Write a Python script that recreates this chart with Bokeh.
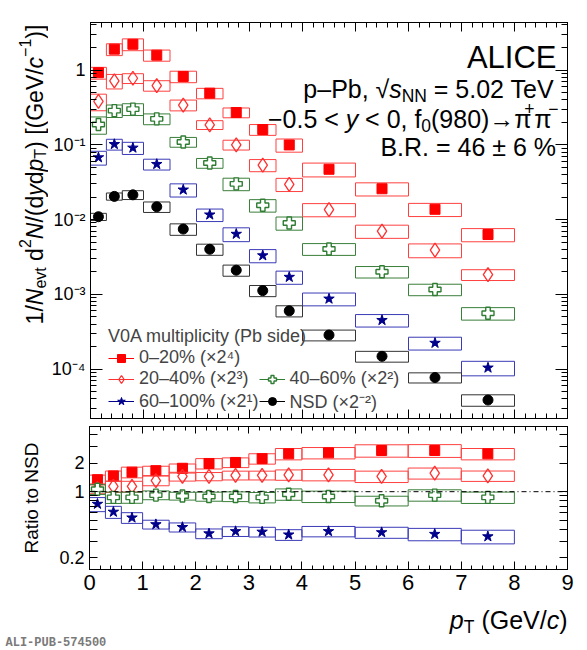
from math import log10, pi
from bokeh.plotting import figure
from bokeh.layouts import column, row
from bokeh.models import (ColumnDataSource, FixedTicker, SingleIntervalTicker, LinearAxis, LogAxis,
                          Label, Legend, LegendItem, Span, Range1d)
from bokeh.embed import file_html
from bokeh.resources import INLINE

# ---------------- data ----------------
pt_lo = [0.0, 0.3, 0.6, 1.0, 1.5, 2.0, 2.5, 3.0, 3.5, 4.0, 5.0, 6.0, 7.0]
pt_hi = [0.3, 0.6, 1.0, 1.5, 2.0, 2.5, 3.0, 3.5, 4.0, 5.0, 6.0, 7.0, 8.0]
pt = [0.15, 0.45, 0.8, 1.25, 1.75, 2.25, 2.75, 3.25, 3.75, 4.5, 5.5, 6.5, 7.5]

# spectra as plotted (already multiplied by the scale factors)
y_0_20 = [0.92, 1.90, 2.21, 1.58, 0.82, 0.49, 0.27, 0.16, 0.0995, 0.047, 0.0258, 0.0137, 0.0063]
sys_0_20 = [0.18, 0.18, 0.18, 0.17, 0.175, 0.16, 0.15, 0.165, 0.2, 0.21, 0.2, 0.2, 0.2]
y_20_40 = [0.38, 0.715, 0.776, 0.62, 0.34, 0.185, 0.10, 0.0535, 0.0296, 0.0136, 0.0070, 0.0039, 0.00183]
sys_20_40 = [0.25, 0.22, 0.15, 0.16, 0.165, 0.135, 0.15, 0.185, 0.2, 0.2, 0.2, 0.21, 0.165]
y_40_60 = [0.187, 0.286, 0.30, 0.222, 0.109, 0.057, 0.030, 0.0155, 0.0090, 0.00404, 0.0020, 0.00116, 0.000557]
sys_40_60 = [0.26, 0.19, 0.18, 0.165, 0.15, 0.15, 0.19, 0.19, 0.2, 0.18, 0.175, 0.175, 0.19]
y_60_100 = [0.0676, 0.1016, 0.091, 0.055, 0.025, 0.0116, 0.0064, 0.0033, 0.0017, 0.00087, 0.00045, 0.000223, 0.000104]
sys_60_100 = [0.21, 0.165, 0.185, 0.165, 0.2, 0.19, 0.21, 0.2, 0.2, 0.195, 0.19, 0.195, 0.22]
y_nsd = [0.0109, 0.0204, 0.0214, 0.0148, 0.00745, 0.0040, 0.0021, 0.00112, 0.0006, 0.000285, 0.000148, 7.7e-5, 3.85e-5]
sys_nsd = [0.11, 0.11, 0.135, 0.16, 0.175, 0.17, 0.17, 0.17, 0.17, 0.165, 0.165, 0.155, 0.175]

# ratios to NSD
r_0_20 = [1.34, 1.47, 1.61, 1.67, 1.77, 1.99, 2.04, 2.24, 2.52, 2.58, 2.73, 2.73, 2.52]
rsys_0_20 = [0.118, 0.126, 0.13, 0.114, 0.11, 0.126, 0.118, 0.126, 0.138, 0.138, 0.15, 0.155, 0.138]
r_20_40 = [1.08, 1.14, 1.14, 1.31, 1.45, 1.45, 1.49, 1.49, 1.51, 1.51, 1.45, 1.57, 1.47]
rsys_20_40 = [0.12, 0.138, 0.13, 0.118, 0.107, 0.10, 0.107, 0.107, 0.126, 0.138, 0.138, 0.134, 0.126]
r_40_60 = [1.06, 0.87, 0.87, 0.92, 0.90, 0.89, 0.89, 0.87, 0.94, 0.89, 0.80, 0.92, 0.87]
rsys_40_60 = [0.118, 0.138, 0.134, 0.107, 0.095, 0.11, 0.118, 0.126, 0.138, 0.138, 0.118, 0.138, 0.138]
r_60_100 = [0.74, 0.61, 0.53, 0.45, 0.42, 0.36, 0.38, 0.375, 0.35, 0.38, 0.37, 0.355, 0.335]
rsys_60_100 = [0.17, 0.146, 0.13, 0.107, 0.11, 0.118, 0.118, 0.118, 0.13, 0.126, 0.134, 0.15, 0.165]

legend_title = "V0A multiplicity (Pb side)"
labels = ["0–20% (×2⁴)", "20–40% (×2³)", "40–60% (×2²)", "60–100% (×2¹)", "NSD (×2⁻²)"]

# ---------------- geometry / style ----------------
FONT = "Liberation Sans"
TOTAL_W = 579
LAB_W = 48                       # strip that holds the rotated y title of the top panel
LEFT_PX, RIGHT_PX = 89, 567
TOP1_PX, BOT1_PX = 22, 422
BOT2_PX = 569
P2_BOTTOM = 31
BOTTOM_TOP = BOT2_PX + P2_BOTTOM  # page y where the bottom text strip starts
X_MIN, X_MAX = 0.0, 9.0
Y1_MIN, Y1_MAX = 2.18e-5, 4.32
Y2_MIN, Y2_MAX = 0.1497, 4.906

def px2x(px):
    return X_MIN + (px - LEFT_PX) / (RIGHT_PX - LEFT_PX) * (X_MAX - X_MIN)

def py2y1(py):
    f = (BOT1_PX - py) / (BOT1_PX - TOP1_PX)
    return 10 ** (log10(Y1_MIN) + f * (log10(Y1_MAX) - log10(Y1_MIN)))

W = {' ': .278, '%': .889, '(': .333, ')': .333, '+': .584, ',': .278, '-': .333, '.': .278, '/': .278,
     '<': .584, '=': .584, 'A': .667, 'B': .667, 'C': .722, 'D': .722, 'E': .667, 'G': .778, 'I': .278,
     'L': .556, 'N': .722, 'P': .667, 'R': .722, 'S': .667, 'T': .611, 'V': .667, 'a': .556, 'b': .556,
     'c': .5, 'd': .556, 'e': .556, 'f': .278, 'i': .222, 'l': .222, 'p': .556, 's': .5, 't': .278,
     'v': .5, 'y': .5, '[': .278, ']': .278, '±': .584, '–': .556, '−': .584, '→': .84, 'π': .56,
     '√': .549}

def tw(s, fs):
    return sum(W.get(ch, .556) for ch in s) * fs

def total_w(pieces):
    return sum(tw(t, fs) for t, fs, _, _ in pieces)

def add_pieces(p, pieces, start, base, fx, fy, rotated=False):
    pos = start
    for text, fs, style, dy in pieces:
        core = text.strip(" ")
        lead = tw(" " * (len(text) - len(text.lstrip(" "))), fs)
        here = pos - lead if rotated else pos + lead
        if core:
            if rotated:
                x, y, ang = fx(base + dy), fy(here), pi / 2
            else:
                x, y, ang = fx(here), fy(base + dy), 0
            p.add_layout(Label(x=x, y=y, text=core, angle=ang, text_font=FONT, text_font_size=f"{fs}px",
                               text_font_style=style, text_align="left", text_baseline="alphabetic",
                               text_color="black"))
        pos = pos - tw(text, fs) if rotated else pos + tw(text, fs)

def style_axis(ax, tick_in, minor_in, label_size=None, ticks=None):
    ax.axis_line_color = "black"
    ax.axis_line_width = 1
    ax.major_tick_in = tick_in
    ax.major_tick_out = 0
    ax.minor_tick_in = minor_in
    ax.minor_tick_out = 0
    ax.major_tick_line_color = "black"
    ax.minor_tick_line_color = "black"
    if label_size is None:
        ax.major_label_text_font_size = "1px"
        ax.major_label_standoff = 0
        ax.major_label_overrides = {t: " " for t in ticks}
    else:
        ax.major_label_text_font_size = label_size
        ax.major_label_text_font = FONT
        ax.major_label_text_color = "black"
        ax.major_label_standoff = 5

def text_fig(w, h):
    f = figure(width=w, height=h, x_range=Range1d(0, w), y_range=Range1d(h, 0),
               output_backend="svg", toolbar_location=None, x_axis_location=None,
               y_axis_location=None, min_border=0)
    try:
        f.frame_align = False      # keep the text strip's frame equal to its canvas
    except Exception:
        pass
    f.grid.visible = False
    f.outline_line_color = None
    f.background_fill_color = "white"
    f.border_fill_color = "white"
    return f

x_major = list(range(0, 10))
y1_major = [1e-4, 1e-3, 1e-2, 0.1, 1.0]
y1_minor = [k * 10.0 ** e for e in range(-5, 1) for k in range(2, 10)]
y2_major = [0.2, 0.3, 0.4, 0.5, 0.6, 0.7, 0.8, 0.9, 1.0, 2.0, 3.0, 4.0]

BORDER_R = TOTAL_W - RIGHT_PX

# ---------------- top panel ----------------
p1 = figure(width=TOTAL_W - LAB_W, height=BOT1_PX, x_range=Range1d(X_MIN, X_MAX),
            y_range=Range1d(Y1_MIN, Y1_MAX), y_axis_type="log", output_backend="svg",
            toolbar_location=None, min_border_left=LEFT_PX - LAB_W, min_border_right=BORDER_R,
            min_border_top=TOP1_PX, min_border_bottom=0)
p1.grid.visible = False
p1.outline_line_color = "black"
p1.background_fill_color = "white"
p1.border_fill_color = "white"

p1.xaxis.ticker = SingleIntervalTicker(interval=1, num_minor_ticks=5)
style_axis(p1.xaxis[0], 9, 5, ticks=x_major)
p1.yaxis.ticker = FixedTicker(ticks=y1_major, minor_ticks=y1_minor)
style_axis(p1.yaxis[0], 12, 6, "18px")
p1.yaxis.major_label_overrides = {1.0: "1", 0.1: "10⁻¹", 0.01: "10⁻²", 0.001: "10⁻³", 0.0001: "10⁻⁴"}
ax = LinearAxis(ticker=SingleIntervalTicker(interval=1, num_minor_ticks=5))
style_axis(ax, 9, 5, ticks=x_major)
p1.add_layout(ax, "above")
ax = LogAxis(ticker=FixedTicker(ticks=y1_major, minor_ticks=y1_minor))
style_axis(ax, 12, 6, ticks=y1_major)
p1.add_layout(ax, "right")

RED = "#ff0000"
RED_BOX = "#ff4040"
DIA = "#ff3030"
GREEN = "#2e7d32"
GREEN_BOX = "#3a7f3a"
BLUE = "#00008b"
BLUE_BOX = "#3a3ab8"
BLACK = "#000000"
BLACK_BOX = "#333333"

series1 = [
    (y_0_20, sys_0_20, "square", RED, RED_BOX, 10, RED, 1),
    (y_20_40, sys_20_40, "diamond", DIA, RED_BOX, 14, None, 1.3),
    (y_40_60, sys_40_60, "plus", GREEN, GREEN_BOX, 12, "white", 1.4),
    (y_60_100, sys_60_100, "star", BLUE, BLUE_BOX, 11, BLUE, 1),
    (y_nsd, sys_nsd, "circle", BLACK, BLACK_BOX, 10, BLACK, 1),
]

def add_series(p, y, sys, marker, color, box_color, size, fill, lw):
    src = ColumnDataSource(dict(x=pt, y=y, lo=pt_lo, hi=pt_hi,
                                top=[v * (1 + e) for v, e in zip(y, sys)],
                                bot=[v * (1 - e) for v, e in zip(y, sys)]))
    p.quad(left="lo", right="hi", top="top", bottom="bot", source=src,
           fill_color=None, line_color=box_color, line_width=1)
    seg = p.segment(x0="x", y0="y", x1="x", y1="y", source=src, line_color=color, line_width=1)
    sc = p.scatter("x", "y", source=src, marker=marker, size=size, fill_color=fill,
                   line_color=color, line_width=lw)
    return seg, sc

rend = [add_series(p1, *s) for s in series1]
blank_src = ColumnDataSource(dict(x=[pt[0]], y=[y_0_20[0]]))
blank = p1.scatter("x", "y", source=blank_src, marker="circle", size=1, fill_alpha=0, line_alpha=0)

legend = Legend(items=[
    LegendItem(label=labels[0], renderers=list(rend[0])),
    LegendItem(label=labels[1], renderers=list(rend[1])),
    LegendItem(label=labels[3], renderers=list(rend[3])),
    LegendItem(label=" ", renderers=[blank]),
    LegendItem(label=labels[2], renderers=list(rend[2])),
    LegendItem(label=labels[4], renderers=list(rend[4])),
], ncols=2, title=legend_title, location=(14, 1))
legend.title_text_font = FONT
legend.title_text_font_size = "18px"
legend.title_text_font_style = "normal"
legend.title_standoff = 0
legend.label_text_font = FONT
legend.label_text_font_size = "18px"
legend.glyph_width = 26
legend.glyph_height = 20
legend.label_height = 20
legend.label_standoff = 5
legend.spacing = 0
legend.padding = 4
legend.margin = 0
legend.background_fill_alpha = 0
legend.border_line_alpha = 0
p1.add_layout(legend)

# texts in the top panel
p1.add_layout(Label(x=px2x(556), y=py2y1(57), text="ALICE", text_font=FONT, text_font_size="31px",
                    text_align="right", text_baseline="alphabetic", text_color="black"))
FS = 25
SUB = 17.5
line2 = [("p–Pb, ", FS, "normal", 0), ("√", FS, "normal", 0), ("s", FS, "italic", 0),
         ("NN", SUB, "normal", 0.28 * FS), (" = 5.02 TeV", FS, "normal", 0)]
add_pieces(p1, line2, 556 - total_w(line2), 89, px2x, py2y1)
line3 = [("−0.5 < ", FS, "normal", 0), ("y", FS, "italic", 0), (" < 0, f", FS, "normal", 0),
         ("0", SUB, "normal", 0.28 * FS), ("(980)→π", FS, "normal", 0), ("+", SUB, "normal", -0.42 * FS),
         ("π", FS, "normal", 0), ("−", SUB, "normal", -0.42 * FS)]
add_pieces(p1, line3, 558 - total_w(line3), 119, px2x, py2y1)
line4 = [("B.R. = 46 ± 6 %", FS, "normal", 0)]
add_pieces(p1, line4, 556 - total_w(line4), 148, px2x, py2y1)

# strip left of the top panel: rotated y title
lab1 = text_fig(LAB_W, BOT1_PX)
YF = 23
YS = 16
ytitle = [("1/", YF, "normal", 0), ("N", YF, "italic", 0), ("evt", YS, "normal", 0.25 * YF),
          (" d", YF, "normal", 0), ("2", YS, "normal", -0.42 * YF), ("N", YF, "italic", 0),
          ("/(d", YF, "normal", 0), ("y", YF, "italic", 0), ("d", YF, "normal", 0),
          ("p", YF, "italic", 0), ("T", YS, "normal", 0.25 * YF), (") [(GeV/", YF, "normal", 0),
          ("c", YF, "italic", 0), ("−1", YS, "normal", -0.42 * YF), (")]", YF, "normal", 0)]
add_pieces(lab1, ytitle, 174 + total_w(ytitle) / 2, 34, lambda px: px, lambda py: py, rotated=True)

# ---------------- ratio panel ----------------
p2 = figure(width=TOTAL_W, height=BOT2_PX - BOT1_PX + P2_BOTTOM, x_range=Range1d(X_MIN, X_MAX),
            y_range=Range1d(Y2_MIN, Y2_MAX), y_axis_type="log", output_backend="svg",
            toolbar_location=None, min_border_left=LEFT_PX, min_border_right=BORDER_R,
            min_border_top=0, min_border_bottom=P2_BOTTOM)
p2.grid.visible = False
p2.outline_line_color = "black"
p2.background_fill_color = "white"
p2.border_fill_color = "white"

p2.xaxis.ticker = SingleIntervalTicker(interval=1, num_minor_ticks=5)
style_axis(p2.xaxis[0], 8, 4, "22px")
p2.yaxis.ticker = FixedTicker(ticks=y2_major, minor_ticks=[])
style_axis(p2.yaxis[0], 8, 0, "18px")
p2.yaxis.major_label_overrides = {t: ("0.2" if t == 0.2 else "1" if t == 1.0 else "2" if t == 2.0 else " ")
                                  for t in y2_major}
p2.yaxis.axis_label = "Ratio to NSD"
p2.yaxis.axis_label_text_font = FONT
p2.yaxis.axis_label_text_font_size = "19px"
p2.yaxis.axis_label_text_font_style = "normal"
p2.yaxis.axis_label_text_color = "black"
p2.yaxis.axis_label_standoff = 14
ax = LinearAxis(ticker=SingleIntervalTicker(interval=1, num_minor_ticks=5))
style_axis(ax, 7, 4, ticks=x_major)
p2.add_layout(ax, "above")
ax = LogAxis(ticker=FixedTicker(ticks=y2_major, minor_ticks=[]))
style_axis(ax, 8, 0, ticks=y2_major)
p2.add_layout(ax, "right")

p2.add_layout(Span(location=1.0, dimension="width", line_color="black", line_width=1,
                   line_dash="5 3 1 3"))

series2 = [
    (r_0_20, rsys_0_20, "square", RED, RED_BOX, 10, RED, 1),
    (r_20_40, rsys_20_40, "diamond", DIA, RED_BOX, 14, None, 1.3),
    (r_40_60, rsys_40_60, "plus", GREEN, GREEN_BOX, 12, "white", 1.4),
    (r_60_100, rsys_60_100, "star", BLUE, BLUE_BOX, 11, BLUE, 1),
]
for s in series2:
    add_series(p2, *s)

# bottom strip: x title and publication id
bottom = text_fig(TOTAL_W, 648 - BOTTOM_TOP)
xtitle = [("p", FS, "italic", 0), ("T", SUB, "normal", 0.28 * FS), (" (GeV/", FS, "normal", 0),
          ("c", FS, "italic", 0), (")", FS, "normal", 0)]
add_pieces(bottom, xtitle, 567 - total_w(xtitle), 619, lambda px: px, lambda py: py - BOTTOM_TOP)
bottom.add_layout(Label(x=5, y=642 - BOTTOM_TOP, text="ALI-PUB-574500", text_font="Liberation Mono",
                        text_font_size="12px", text_font_style="bold", text_color="#7a7a7a",
                        text_align="left", text_baseline="alphabetic"))

layout = column(row(lab1, p1, spacing=0), p2, bottom, spacing=0)
open("out.html", "w").write(file_html(layout, INLINE))
